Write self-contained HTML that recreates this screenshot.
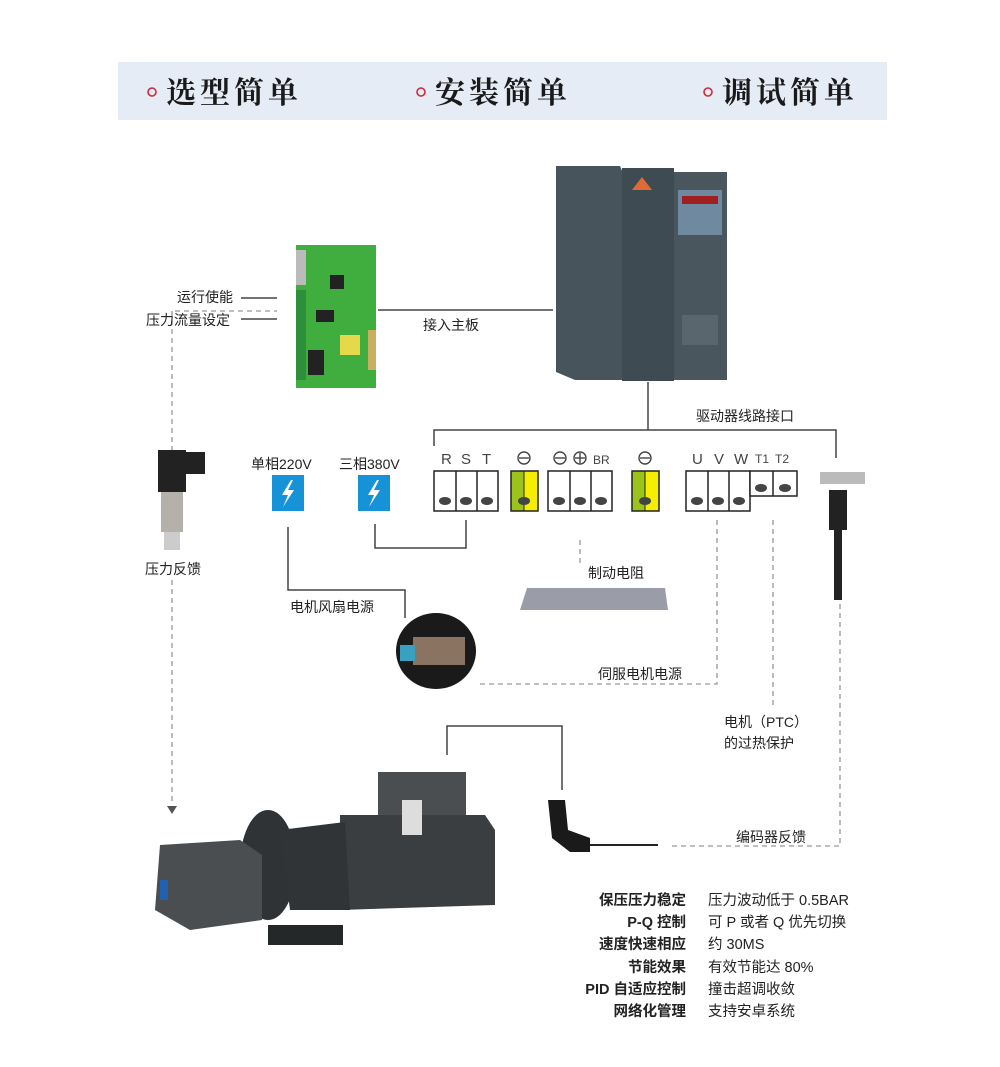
<!DOCTYPE html>
<html><head><meta charset="utf-8"><style>
body{margin:0;background:#fff;}
#c{position:relative;width:1000px;height:1067px;overflow:hidden;font-family:"Liberation Sans","Noto Sans CJK SC",sans-serif;color:#222;}
.t{position:absolute;font-size:14px;white-space:nowrap;}
</style></head><body><div id="c">
<svg width="1000" height="1067" style="position:absolute;left:0;top:0" font-family="Liberation Sans, Noto Sans CJK SC, sans-serif">
<rect x="118" y="62" width="769" height="58" fill="#e6ecf6"/>
<g fill="none" stroke="#d0283c" stroke-width="1.6"><circle cx="152" cy="92" r="4"/><circle cx="421" cy="92" r="4"/><circle cx="708" cy="92" r="4"/></g>
<g font-family="Noto Serif CJK SC, serif" font-weight="bold" font-size="30" fill="#1a1a1a">
<text x="166" y="103" letter-spacing="4">选型简单</text>
<text x="435" y="103" letter-spacing="4">安装简单</text>
<text x="722" y="103" letter-spacing="4">调试简单</text>
</g>
<g stroke="#444" stroke-width="1.5" fill="none">
<line x1="241" y1="298" x2="277" y2="298"/><line x1="241" y1="319" x2="277" y2="319"/>
<line x1="378" y1="310" x2="553" y2="310"/>
<polyline points="648,382 648,430"/>
<polyline points="434,446 434,430 836,430 836,458"/>
<polyline points="375,524 375,548 466,548 466,520"/>
<polyline points="288,527 288,590 405,590 405,618"/>
<polyline points="447,755 447,726 562,726 562,790"/>
</g>
<g stroke="#999" stroke-width="1.3" fill="none" stroke-dasharray="5,4">
<line x1="175" y1="311" x2="277" y2="311"/>
<line x1="172" y1="311" x2="172" y2="450"/>
<line x1="172" y1="580" x2="172" y2="805"/>
<line x1="580" y1="540" x2="580" y2="565"/>
<polyline points="717,520 717,684 480,684"/>
<line x1="773" y1="520" x2="773" y2="708"/>
<polyline points="672,846 840,846 840,600"/>
</g>
<path d="M167 806 L177 806 L172 814 Z" fill="#555"/>
<rect x="296" y="245" width="80" height="143" fill="#3fae3f"/>
<rect x="296" y="250" width="10" height="35" fill="#bbb"/>
<rect x="296" y="290" width="10" height="90" fill="#2e8f3a"/>
<rect x="340" y="335" width="20" height="20" fill="#e5d84a"/>
<rect x="316" y="310" width="18" height="12" fill="#222"/>
<rect x="308" y="350" width="16" height="25" fill="#222"/>
<rect x="330" y="275" width="14" height="14" fill="#222"/>
<rect x="368" y="330" width="8" height="40" fill="#c9b060"/>
<path d="M556 166 L620 166 L625 178 L625 380 L575 380 L556 372 Z" fill="#48545c"/>
<rect x="622" y="168" width="52" height="213" fill="#3f4b53"/>
<rect x="674" y="172" width="53" height="208" fill="#4a565e"/>
<rect x="678" y="190" width="44" height="45" fill="#6f8aa0"/>
<rect x="682" y="196" width="36" height="8" fill="#a02020"/>
<path d="M632 190 L642 177 L652 190 Z" fill="#e06a35"/>
<rect x="682" y="315" width="36" height="30" fill="#5a666e"/>
<rect x="272" y="475" width="32" height="36" fill="#1592d8"/>
<rect x="358" y="475" width="32" height="36" fill="#1592d8"/>
<path d="M291 480 L282 495 L288 495 L283 507 L294 490 L288 490 L293 480Z" fill="#fff"/>
<path d="M377 480 L368 495 L374 495 L369 507 L380 490 L374 490 L379 480Z" fill="#fff"/>
<g stroke="#222" stroke-width="1.5" fill="#fff">
<rect x="434" y="471" width="64" height="40"/><line x1="456" y1="471" x2="456" y2="511"/><line x1="477" y1="471" x2="477" y2="511"/>
<rect x="548" y="471" width="64" height="40"/><line x1="570" y1="471" x2="570" y2="511"/><line x1="591" y1="471" x2="591" y2="511"/>
<rect x="686" y="471" width="64" height="40"/><line x1="708" y1="471" x2="708" y2="511"/><line x1="729" y1="471" x2="729" y2="511"/>
<rect x="750" y="471" width="47" height="25"/><line x1="773" y1="471" x2="773" y2="496"/>
</g>
<rect x="511" y="471" width="13" height="40" fill="#9cc31a"/><rect x="524" y="471" width="14" height="40" fill="#f5ee00"/>
<rect x="511" y="471" width="27" height="40" fill="none" stroke="#222" stroke-width="1.5"/><line x1="524" y1="471" x2="524" y2="511" stroke="#222"/>
<rect x="632" y="471" width="13" height="40" fill="#9cc31a"/><rect x="645" y="471" width="14" height="40" fill="#f5ee00"/>
<rect x="632" y="471" width="27" height="40" fill="none" stroke="#222" stroke-width="1.5"/><line x1="645" y1="471" x2="645" y2="511" stroke="#222"/>
<g fill="#444"><ellipse cx="445" cy="501" rx="6" ry="4"/><ellipse cx="466" cy="501" rx="6" ry="4"/><ellipse cx="487" cy="501" rx="6" ry="4"/>
<ellipse cx="524" cy="501" rx="6" ry="4"/><ellipse cx="559" cy="501" rx="6" ry="4"/><ellipse cx="580" cy="501" rx="6" ry="4"/><ellipse cx="601" cy="501" rx="6" ry="4"/>
<ellipse cx="645" cy="501" rx="6" ry="4"/><ellipse cx="697" cy="501" rx="6" ry="4"/><ellipse cx="718" cy="501" rx="6" ry="4"/><ellipse cx="739" cy="501" rx="6" ry="4"/>
<ellipse cx="761" cy="488" rx="6" ry="4"/><ellipse cx="785" cy="488" rx="6" ry="4"/></g>
<g font-size="15" fill="#444"><text x="441" y="464">R</text><text x="461" y="464">S</text><text x="482" y="464">T</text>
<text x="692" y="464">U</text><text x="714" y="464">V</text><text x="734" y="464">W</text>
<text x="755" y="463" font-size="12">T1</text><text x="775" y="463" font-size="12">T2</text><text x="593" y="464" font-size="12">BR</text></g>
<g fill="none" stroke="#444" stroke-width="1.4"><circle cx="524" cy="458" r="6"/><circle cx="560" cy="458" r="6"/><circle cx="580" cy="458" r="6"/><circle cx="645" cy="458" r="6"/>
<line x1="519" y1="458" x2="529" y2="458"/><line x1="555" y1="458" x2="565" y2="458"/><line x1="575" y1="458" x2="585" y2="458"/><line x1="580" y1="453" x2="580" y2="463"/><line x1="640" y1="458" x2="650" y2="458"/></g>
<rect x="820" y="472" width="45" height="12" fill="#bbb"/>
<rect x="829" y="490" width="18" height="40" fill="#222"/>
<rect x="834" y="530" width="8" height="70" fill="#222"/>
<rect x="158" y="450" width="28" height="42" fill="#222"/>
<rect x="185" y="452" width="20" height="22" fill="#222"/>
<rect x="161" y="492" width="22" height="40" fill="#b5b0aa"/>
<rect x="164" y="532" width="16" height="18" fill="#ccc"/>
<path d="M527 588 L665 588 L668 610 L520 610 Z" fill="#9a9ca8"/>
<ellipse cx="436" cy="651" rx="40" ry="38" fill="#1a1a1a"/>
<rect x="413" y="637" width="52" height="28" fill="#8a7360"/>
<rect x="400" y="645" width="15" height="16" fill="#3aa0c0"/>
<path d="M548 800 L565 800 L568 830 L590 838 L590 852 L570 852 L552 838 Z" fill="#1a1a1a"/>
<line x1="590" y1="845" x2="658" y2="845" stroke="#222" stroke-width="2"/>
<rect x="378" y="772" width="88" height="45" fill="#4a4e50"/>
<path d="M340 815 L485 815 L495 830 L495 905 L340 910 Z" fill="#3a3e40"/>
<rect x="402" y="800" width="20" height="35" fill="#ddd"/>
<ellipse cx="268" cy="865" rx="28" ry="55" fill="#2f3335"/>
<path d="M280 830 L345 822 L350 910 L290 910 Z" fill="#303436"/>
<rect x="268" y="925" width="75" height="20" fill="#252829"/>
<path d="M160 845 L240 840 L262 855 L262 920 L190 930 L155 910 Z" fill="#4a4e50"/>
<rect x="160" y="880" width="8" height="20" fill="#2260b0"/>
</svg>
<div class="t" style="left:177px;top:287px">运行使能</div>
<div class="t" style="left:146px;top:310px">压力流量设定</div>
<div class="t" style="left:423px;top:315px">接入主板</div>
<div class="t" style="left:696px;top:406px">驱动器线路接口</div>
<div class="t" style="left:251px;top:454px">单相220V</div>
<div class="t" style="left:339px;top:454px">三相380V</div>
<div class="t" style="left:145px;top:559px">压力反馈</div>
<div class="t" style="left:588px;top:563px">制动电阻</div>
<div class="t" style="left:290px;top:597px">电机风扇电源</div>
<div class="t" style="left:598px;top:664px">伺服电机电源</div>
<div class="t" style="left:724px;top:712px">电机（PTC）</div>
<div class="t" style="left:724px;top:733px">的过热保护</div>
<div class="t" style="left:736px;top:827px">编码器反馈</div>
<div class="t" style="left:540px;top:890px;width:146px;text-align:right;font-weight:bold;line-height:22.2px;font-size:14.5px">保压压力稳定<br>P-Q 控制<br>速度快速相应<br>节能效果<br>PID 自适应控制<br>网络化管理</div>
<div class="t" style="left:708px;top:890px;line-height:22.2px;font-size:14.5px">压力波动低于 0.5BAR<br>可 P 或者 Q 优先切换<br>约 30MS<br>有效节能达 80%<br>撞击超调收敛<br>支持安卓系统</div>
</div></body></html>
